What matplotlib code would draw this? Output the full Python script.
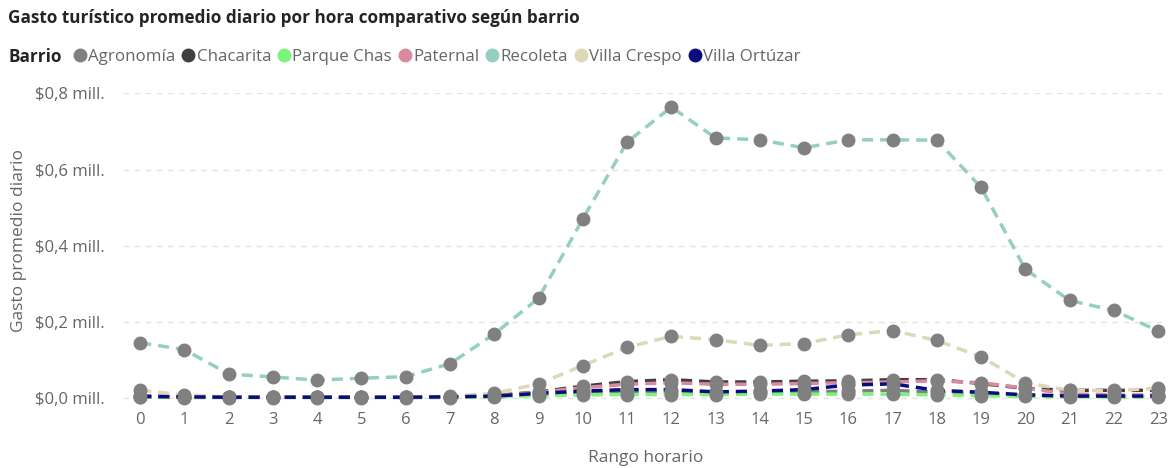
import matplotlib.pyplot as plt
from matplotlib.lines import Line2D
from matplotlib.ticker import FuncFormatter

plt.rcParams['font.family'] = ['Open Sans', 'DejaVu Sans']

# Datos (millones de $)
horas = list(range(24))
barrios = ["Agronomía", "Chacarita", "Parque Chas", "Paternal", "Recoleta", "Villa Crespo", "Villa Ortúzar"]
colores = ["#808080", "#404040", "#7CF47C", "#D98A9C", "#95CFC0", "#DDD8B8", "#0B0B80"]

agronomia = [0.003, 0.002, 0.002, 0.002, 0.002, 0.002, 0.002, 0.002, 0.004, 0.008, 0.012, 0.015,
             0.016, 0.015, 0.015, 0.016, 0.018, 0.020, 0.015, 0.012, 0.008, 0.005, 0.004, 0.004]
chacarita = [0.005, 0.003, 0.002, 0.002, 0.002, 0.002, 0.002, 0.003, 0.006, 0.016, 0.031, 0.043,
             0.048, 0.042, 0.042, 0.044, 0.045, 0.048, 0.048, 0.038, 0.025, 0.020, 0.020, 0.020]
parque_chas = [0.002, 0.001, 0.001, 0.001, 0.001, 0.001, 0.001, 0.001, 0.003, 0.006, 0.008, 0.009,
               0.009, 0.009, 0.010, 0.010, 0.010, 0.010, 0.008, 0.006, 0.004, 0.003, 0.003, 0.003]
paternal = [0.004, 0.003, 0.002, 0.002, 0.002, 0.002, 0.002, 0.003, 0.006, 0.015, 0.027, 0.036,
            0.040, 0.036, 0.036, 0.038, 0.040, 0.042, 0.045, 0.040, 0.026, 0.010, 0.008, 0.008]
recoleta = [0.145, 0.127, 0.063, 0.055, 0.047, 0.052, 0.056, 0.090, 0.168, 0.262, 0.470, 0.672,
            0.764, 0.683, 0.678, 0.657, 0.678, 0.678, 0.677, 0.553, 0.338, 0.256, 0.230, 0.176]
villa_crespo = [0.020, 0.008, 0.003, 0.002, 0.002, 0.002, 0.003, 0.004, 0.012, 0.037, 0.085, 0.133,
                0.162, 0.153, 0.138, 0.143, 0.166, 0.177, 0.151, 0.108, 0.040, 0.020, 0.019, 0.026]
villa_ortuzar = [0.004, 0.003, 0.002, 0.002, 0.002, 0.002, 0.002, 0.003, 0.005, 0.012, 0.018, 0.022,
                 0.022, 0.016, 0.018, 0.022, 0.034, 0.037, 0.020, 0.015, 0.008, 0.005, 0.005, 0.005]

series = [agronomia, chacarita, parque_chas, paternal, recoleta, villa_crespo, villa_ortuzar]
yticks = [0.0, 0.2, 0.4, 0.6, 0.8]

fig = plt.figure(figsize=(11.73, 4.68), dpi=100)
ax = fig.add_axes([0.105, 0.1415, 0.891, 0.659])

for vals, col in zip(series, colores):
    ax.plot(horas, vals, color=col, linewidth=2.5, linestyle=(0, (3.2, 2.0)),
            marker='o', markersize=9, markerfacecolor='#808080', markeredgecolor='#808080',
            clip_on=False)

ax.set_xlim(-0.385, 23.23)
ax.set_ylim(-0.01, 0.8)
ax.set_xticks(horas)
ax.set_yticks(yticks)
ax.yaxis.set_major_formatter(FuncFormatter(lambda v, p: "$" + f"{v:.1f}".replace(".", ",") + " mill."))
ax.tick_params(axis='both', length=0, labelsize=12, colors='#666666')
ax.tick_params(axis='y', pad=13)
ax.tick_params(axis='x', pad=7)
for s in ax.spines.values():
    s.set_visible(False)
ax.grid(axis='y', color='#e3e3e3', linestyle=(0, (4, 4)), linewidth=1)
ax.set_axisbelow(True)

ax.set_xlabel("Rango horario", fontsize=12.5, color='#666666', labelpad=16)
fig.text(0.016, 0.487, "Gasto promedio diario", rotation=90, fontsize=12.5, color='#666666',
         ha='center', va='center')

fig.text(0.007, 0.962, "Gasto turístico promedio diario por hora comparativo según barrio",
         fontsize=12.3, fontweight='bold', color='#252423', va='center')
fig.text(0.007, 0.878, "Barrio", fontsize=12.3, fontweight='bold', color='#252423', va='center')

handles = [Line2D([], [], linestyle='none', marker='o', markersize=9, color=c) for c in colores]
ax.legend(handles, barrios, loc='center left', bbox_to_anchor=(0.0565, 0.878),
          bbox_transform=fig.transFigure, ncol=7, frameon=False, fontsize=12.2,
          handlelength=0.6, handletextpad=0.2, columnspacing=0.45, borderpad=0,
          labelcolor='#666666')

fig.savefig("out.png", dpi=100)
